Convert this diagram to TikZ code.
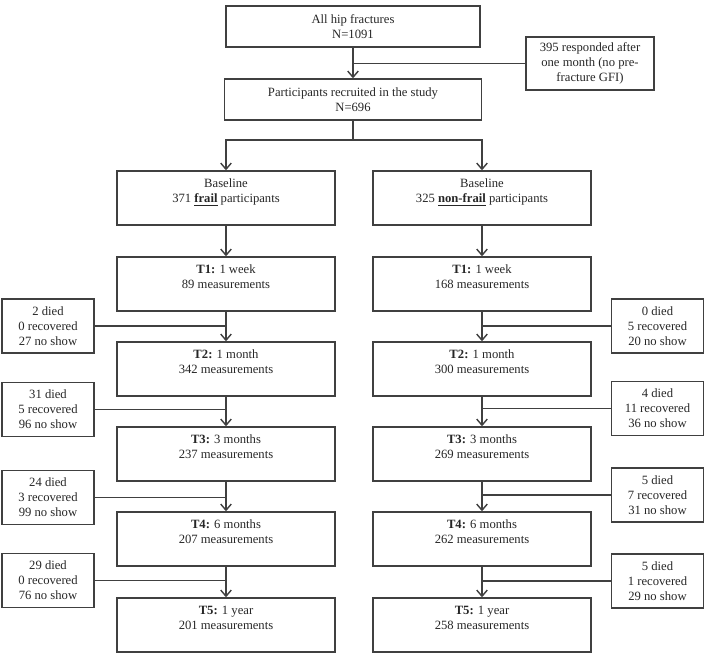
\documentclass[tikz,border=0pt]{standalone}
\usepackage{fontspec}
\setmainfont{Liberation Serif}
\usetikzlibrary{arrows.meta}

\begin{document}
\begin{tikzpicture}[x=0.02cm,y=0.02cm,
  box/.style={draw=black!75, line width=0.8pt, align=center, inner sep=0pt,
    font=\fontsize{7.2}{8.6}\selectfont, text=black!85},
  stage/.style={box, minimum width=4.36cm, minimum height=1.08cm},
  lost/.style={box, minimum width=1.84cm, minimum height=1.08cm},
  link/.style={draw=black!75, line width=0.8pt},
  flow/.style={link, -{Straight Barb[length=3.5pt,width=6pt]}}]
\useasboundingbox (0,0) rectangle (708,660);
% top of the chart
\node[box, minimum width=5.08cm, minimum height=0.82cm] (all) at (353,633.5) {All hip fractures\\N=1091};
\node[box, minimum width=5.14cm, minimum height=0.82cm] (part) at (353,560.5) {Participants recruited in the study\\N=696};
\node[box, minimum width=2.56cm, minimum height=1.06cm] (resp) at (590,596.5) {395 responded after\\one month (no pre-\\fracture GFI)};
\coordinate (split) at (353,520);
\draw[flow] (all) -- (part);
\draw[link] (resp.west) -- (resp.west -| all.south);
\draw[link] (part) -- (split);
% frail participants
\node[stage] (frail0) at (226,462) {Baseline\\371 \underline{\textbf{frail}} participants\\\mbox{}};
\node[stage] (frail1) at (226,376) {\textbf{T1:} 1 week\\89 measurements\\\mbox{}};
\node[stage] (frail2) at (226,291) {\textbf{T2:} 1 month\\342 measurements\\\mbox{}};
\node[stage] (frail3) at (226,206) {\textbf{T3:} 3 months\\237 measurements\\\mbox{}};
\node[stage] (frail4) at (226,121) {\textbf{T4:} 6 months\\207 measurements\\\mbox{}};
\node[stage] (frail5) at (226,35) {\textbf{T5:} 1 year\\201 measurements\\\mbox{}};
\node[lost] (lossf2) at (48,334) {2 died\\0 recovered\\27 no show};
\node[lost] (lossf3) at (48,250.5) {31 died\\5 recovered\\96 no show};
\node[lost] (lossf4) at (48,162.5) {24 died\\3 recovered\\99 no show};
\node[lost] (lossf5) at (48,79.5) {29 died\\0 recovered\\76 no show};
% non-frail participants
\node[stage] (nonfrail0) at (482,462) {Baseline\\325 \underline{\textbf{non-frail}} participants\\\mbox{}};
\node[stage] (nonfrail1) at (482,376) {\textbf{T1:} 1 week\\168 measurements\\\mbox{}};
\node[stage] (nonfrail2) at (482,291) {\textbf{T2:} 1 month\\300 measurements\\\mbox{}};
\node[stage] (nonfrail3) at (482,206) {\textbf{T3:} 3 months\\269 measurements\\\mbox{}};
\node[stage] (nonfrail4) at (482,121) {\textbf{T4:} 6 months\\262 measurements\\\mbox{}};
\node[stage] (nonfrail5) at (482,35) {\textbf{T5:} 1 year\\258 measurements\\\mbox{}};
\node[lost] (lossn2) at (657.5,334) {0 died\\5 recovered\\20 no show};
\node[lost] (lossn3) at (657.5,251.5) {4 died\\11 recovered\\36 no show};
\node[lost] (lossn4) at (657.5,165) {5 died\\7 recovered\\31 no show};
\node[lost] (lossn5) at (657.5,79) {5 died\\1 recovered\\29 no show};
% connectors
\draw[flow] (split) -| (frail0.north);
\draw[flow] (split) -| (nonfrail0.north);
\draw[flow] (frail0) -- (frail1);
\draw[flow] (frail1) -- (frail2);
\draw[flow] (frail2) -- (frail3);
\draw[flow] (frail3) -- (frail4);
\draw[flow] (frail4) -- (frail5);
\draw[flow] (nonfrail0) -- (nonfrail1);
\draw[flow] (nonfrail1) -- (nonfrail2);
\draw[flow] (nonfrail2) -- (nonfrail3);
\draw[flow] (nonfrail3) -- (nonfrail4);
\draw[flow] (nonfrail4) -- (nonfrail5);
\draw[link] (lossf2.east) -- (lossf2.east -| frail1.south);
\draw[link] (lossf3.east) -- (lossf3.east -| frail2.south);
\draw[link] (lossf4.east) -- (lossf4.east -| frail3.south);
\draw[link] (lossf5.east) -- (lossf5.east -| frail4.south);
\draw[link] (lossn2.west) -- (lossn2.west -| nonfrail1.south);
\draw[link] (lossn3.west) -- (lossn3.west -| nonfrail2.south);
\draw[link] (lossn4.west) -- (lossn4.west -| nonfrail3.south);
\draw[link] (lossn5.west) -- (lossn5.west -| nonfrail4.south);
\end{tikzpicture}
\end{document}
